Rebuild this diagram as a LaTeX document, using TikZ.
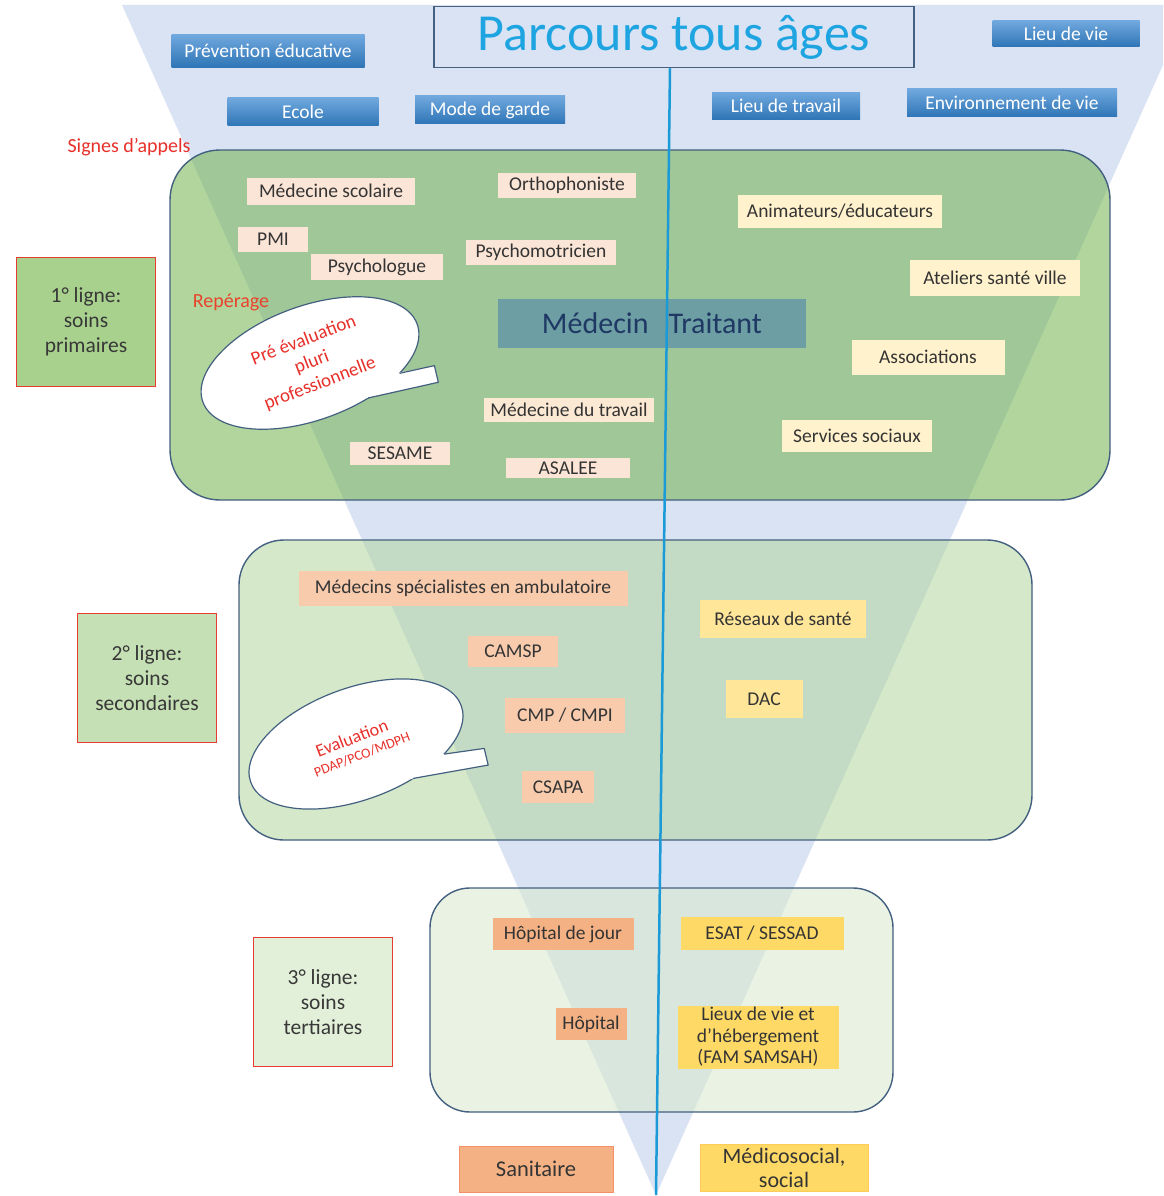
\documentclass[tikz,border=0pt]{standalone}
\usepackage{fontspec}
\setmainfont{Carlito}
\definecolor{funnelc}{RGB}{218,227,243}
\definecolor{gA}{RGB}{101,173,61}
\definecolor{gB}{RGB}{173,213,150}
\definecolor{gC}{RGB}{215,233,201}
\definecolor{bord}{RGB}{68,96,128}
\definecolor{peach}{RGB}{251,229,214}
\definecolor{cream}{RGB}{255,242,204}
\definecolor{salmon}{RGB}{248,203,173}
\definecolor{yel}{RGB}{255,230,153}
\definecolor{salmonB}{RGB}{244,177,131}
\definecolor{yelB}{RGB}{255,217,102}
\definecolor{mtc}{RGB}{108,158,163}
\definecolor{mttext}{RGB}{31,56,100}
\definecolor{titlec}{RGB}{30,165,225}
\definecolor{linec}{RGB}{26,154,214}
\definecolor{redl}{RGB}{232,48,42}
\definecolor{txt}{RGB}{52,52,52}
\definecolor{labA}{RGB}{169,209,142}
\definecolor{labB}{RGB}{197,224,180}
\definecolor{labC}{RGB}{226,240,217}
\definecolor{labred}{RGB}{230,60,50}
\definecolor{btop}{RGB}{112,168,222}
\definecolor{bbot}{RGB}{46,117,182}
\tikzset{
  itm/.style={rectangle, inner sep=0pt, text=txt, align=center, font=\fontsize{19.5}{21.5}\selectfont},
  sz/.style 2 args={minimum width=#1pt, minimum height=#2pt},
  btn/.style={rectangle, inner sep=0pt, top color=btop, bottom color=bbot, text=white, font=\fontsize{19.5}{21}\selectfont},
  lab/.style={rectangle, draw=labred, line width=1.8pt, text=black!78, align=center, font=\fontsize{21.5}{25}\selectfont, minimum width=139pt, minimum height=129pt},
  zone/.style={draw=bord, line width=1.4pt, fill opacity=0.5},
  redlab/.style={text=redl, font=\fontsize{20}{22}\selectfont, inner sep=0pt},
  bub/.style={draw=bord, line width=1.2pt},
  bubtxt/.style={text=redl, align=center, rotate=21, inner sep=0pt}
}
\begin{document}
\begin{tikzpicture}[x=1pt,y=-1pt]
\useasboundingbox (0,0) rectangle (1163,1196);
\fill[white] (0,0) rectangle (1163,1196);
% funnel
\coordinate (apex) at (656,1195);
\fill[funnelc] (122,5) -- (1163,5) -- (1163,65) -- (apex) -- cycle;
% zones
\draw[zone, fill=gA, rounded corners=50pt] (170,150) rectangle (1110,500);
\draw[zone, fill=gB, rounded corners=45pt] (239,540) rectangle (1032,840);
\draw[zone, fill=gC, rounded corners=40pt] (430,888) rectangle (893,1112);
% title
\node[draw=bord, line width=1.5pt, sz={480}{61}, inner sep=0pt, text=titlec, font=\fontsize{52}{56}\selectfont] (title) at (674,37) {Parcours tous âges};
% blue buttons
\node[btn, sz={193}{33}] (prev) at (268,51) {Prévention éducative};
\node[btn, sz={151}{28}] (ecole) at (303,112) {Ecole};
\node[btn, sz={150}{28}] (garde) at (490,110) {Mode de garde};
\node[btn, sz={148}{27}] (travail) at (786,106) {Lieu de travail};
\node[btn, sz={210}{28}] (env) at (1012,103) {Environnement de vie};
\node[btn, sz={147}{26}] (lieuvie) at (1066,34) {Lieu de vie};
% red labels
\node[redlab] (signes) at (129,147) {Signes d’appels};
\node[redlab, text=labred!90!orange] (rep) at (231,302) {Repérage};
% left labels
\node[lab, fill=labA] (l1) at (86,322) {1° ligne:\\soins\\primaires};
\node[lab, fill=labB] (l2) at (147,678) {2° ligne:\\soins\\secondaires};
\node[lab, fill=labC] (l3) at (323,1002) {3° ligne:\\soins\\tertiaires};
% box 1 items
\node[itm, fill=peach, sz={168}{27}] (medsco) at (331,191) {Médecine scolaire};
\node[itm, fill=peach, sz={138}{25}] (ortho) at (567,185) {Orthophoniste};
\node[itm, fill=peach, sz={70}{25}] (pmi) at (273,239) {PMI};
\node[itm, fill=peach, sz={132}{26}] (psycho) at (377,267) {Psychologue};
\node[itm, fill=peach, sz={150}{25}] (psychom) at (541,252) {Psychomotricien};
\node[itm, fill=cream, sz={204}{33}] (anim) at (840,211) {Animateurs/éducateurs};
\node[itm, fill=cream, sz={170}{36}] (atel) at (995,278) {Ateliers santé ville};
\node[itm, fill=cream, sz={153}{35}] (assoc) at (928,357) {Associations};
\node[itm, fill=peach!70!cream, sz={170}{24}] (medtrav) at (569,410) {Médecine du travail};
\node[itm, fill=cream, sz={150}{32}] (servsoc) at (857,436) {Services sociaux};
\node[itm, fill=peach, sz={100}{23}] (sesame) at (400,453) {SESAME};
\node[itm, fill=peach, sz={124}{20}] (asalee) at (568,468) {ASALEE};
\node[fill=mtc, sz={308}{49}, inner sep=0pt, text=mttext, font=\fontsize{30}{32}\selectfont] (mt) at (652,323) {Médecin\hspace{20pt}Traitant};
% bubble 1
\begin{scope}[shift={(310,363)}, rotate=20]
  \draw[bub, fill=white] (0,0) ellipse [x radius=114, y radius=57];
  \fill[white] (63.9,37) -- (116,45) -- (114,62) -- (25.4,50) -- cycle;
  \draw[bub, line join=round] (80.6,40.3) -- (116,45) -- (114,62) -- (42.7,52.8);
  \node[bubtxt, font=\fontsize{19}{23}\selectfont] (pre) at (2,0) {Pré évaluation\\pluri\\professionnelle};
\end{scope}
% box 2 items
\node[itm, fill=salmon, sz={329}{35}] (spec) at (463,588) {Médecins spécialistes en ambulatoire};
\node[itm, fill=salmon, sz={90}{31}] (camsp) at (513,651) {CAMSP};
\node[itm, fill=salmon, sz={120}{35}] (cmp) at (565,715) {CMP / CMPI};
\node[itm, fill=salmon, sz={72}{32}] (csapa) at (558,787) {CSAPA};
\node[itm, fill=yel, sz={166}{38}] (reseau) at (783,619) {Réseaux de santé};
\node[itm, fill=yel, sz={77}{38}] (dac) at (764,699) {DAC};
% bubble 2
\begin{scope}[shift={(356,744)}, rotate=20]
  \draw[bub, fill=white] (0,0) ellipse [x radius=112, y radius=56];
  \fill[white] (63,36) -- (119,48) -- (117,65) -- (25,49) -- cycle;
  \draw[bub, line join=round] (79.2,39.6) -- (119,48) -- (117,65) -- (42,51.9);
  \node[bubtxt, font=\fontsize{18}{20}\selectfont] (evalt) at (-2,-7) {Evaluation};
  \node[bubtxt, font=\fontsize{14}{16}\selectfont] (evalp) at (2,12) {PDAP/PCO/MDPH};
\end{scope}
% box 3 items
\node[itm, fill=salmonB, sz={141}{32}] (hdj) at (563,934) {Hôpital de jour};
\node[itm, fill=salmonB, sz={71}{32}] (hop) at (591,1024) {Hôpital};
\node[itm, fill=yelB, sz={163}{33}] (esat) at (762,933) {ESAT / SESSAD};
\node[itm, fill=yelB, sz={161}{63}] (lieux) at (758,1037) {Lieux de vie et\\d’hébergement\\(FAM SAMSAH)};
% bottom
\node[itm, fill=salmonB, draw=salmonB!80!red, line width=0.8pt, sz={154}{46}, font=\fontsize{22.5}{24}\selectfont] (sanit) at (536,1169) {Sanitaire};
\node[itm, fill=yelB, draw=yelB!85!orange, line width=0.8pt, sz={168}{47}, font=\fontsize{22}{24}\selectfont] (medsoc) at (784,1168) {Médicosocial,\\social};
% vertical line
\draw[linec, line width=2.5pt] ([xshift=-4pt]title.south) -- (apex);
\end{tikzpicture}
\end{document}
